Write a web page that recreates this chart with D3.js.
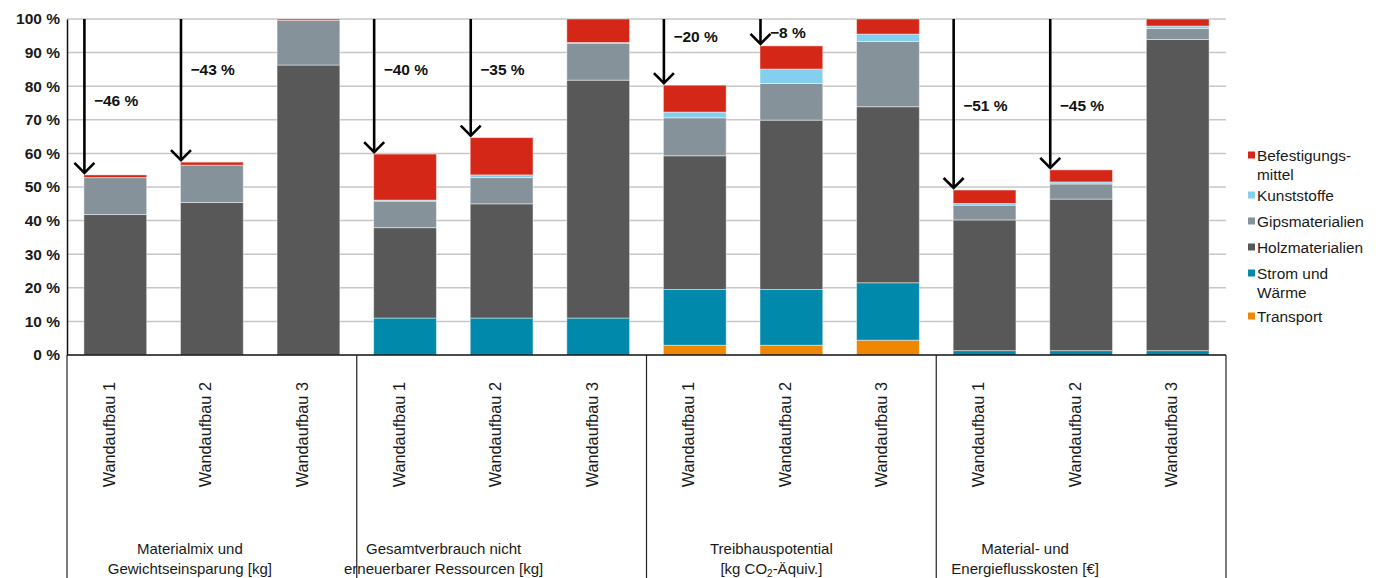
<!DOCTYPE html>
<html lang="de">
<head>
<meta charset="utf-8">
<script src="https://cdn.jsdelivr.net/npm/d3@7"></script>
<style>
  html, body { margin: 0; padding: 0; background: #fff; }
  svg { display: block; font-family: "Liberation Sans", Arial, sans-serif; }
</style>
</head>
<body>
<svg id="chart" width="1376" height="578"></svg>
<script>
// Bars (three wall build-ups per assessment group)
const bars = ["Wandaufbau 1", "Wandaufbau 2", "Wandaufbau 3"];
const groups = [
  ["Materialmix und", "Gewichtseinsparung [kg]"],
  ["Gesamtverbrauch nicht", "erneuerbarer Ressourcen [kg]"],
  ["Treibhauspotential", "[kg CO₂-Äquiv.]"],
  ["Material- und", "Energieflusskosten [€]"]
];

// Shares in % per bar (12 bars, 3 per group), stacked bottom to top
const transport = [0, 0, 0, 0, 0, 0, 2.9, 2.9, 4.4, 0, 0, 0];
const stromWaerme = [0, 0, 0, 11.0, 11.0, 11.0, 16.6, 16.6, 17.1, 1.3, 1.3, 1.3];
const holz = [41.8, 45.4, 86.3, 26.9, 34.0, 70.8, 39.8, 50.4, 52.4, 38.9, 45.1, 92.6];
const gips = [11.0, 11.1, 13.3, 7.9, 7.8, 11.0, 11.3, 10.9, 19.4, 4.4, 4.5, 3.3];
const kunststoffe = [0, 0, 0, 0.3, 0.8, 0.2, 1.7, 4.3, 2.2, 0.5, 0.6, 0.7];
const befestigung = [0.8, 0.9, 0.4, 13.7, 11.1, 7.0, 8.0, 6.9, 4.5, 4.0, 3.6, 2.1];

const seriesNames = ["Transport", "Strom und Wärme", "Holzmaterialien", "Gipsmaterialien", "Kunststoffe", "Befestigungsmittel"];
const seriesValues = [transport, stromWaerme, holz, gips, kunststoffe, befestigung];
const seriesColors = ["#ef8700", "#0089ab", "#585858", "#85929a", "#84cfee", "#d52718"];

// Legend entries, top to bottom (label lines)
const legendLabels = [
  ["Befestigungs-", "mittel"], ["Kunststoffe"], ["Gipsmaterialien"],
  ["Holzmaterialien"], ["Strom und", "Wärme"], ["Transport"]
];

const yTicks = [0, 10, 20, 30, 40, 50, 60, 70, 80, 90, 100];

// Height (in % units) of the reduction labels next to the arrows
const reductionLabelAt = [76, 85, null, 85, 85, null, 95, 96.2, null, 74.5, 74.5, null];

// ---- layout ----
const svg = d3.select("#chart");
const plotLeft = 67, plotRight = 1226, plotTop = 19, plotBottom = 355, frameBottom = 578;
const groupLabelShift = [-22, -58, -20, -56];
const legendX = 1248, legendCenters = [155, 195, 221, 247, 273, 316], legendLine = 19.5;

const ids = d3.range(12);
const x = d3.scaleBand().domain(ids).range([plotLeft, plotRight]).paddingInner(0.35).paddingOuter(0.175);
const y = d3.scaleLinear().domain([0, 100]).range([plotBottom, plotTop]);

// gridlines
svg.append("g").selectAll("line").data(yTicks.filter(d => d > 0)).join("line")
  .attr("x1", plotLeft).attr("x2", plotRight)
  .attr("y1", d => y(d)).attr("y2", d => y(d))
  .attr("stroke", "#c7c7c7").attr("stroke-width", 1.5);

// y axis
const yAxis = svg.append("g").attr("transform", `translate(${plotLeft},0)`)
  .call(d3.axisLeft(y).tickValues(yTicks).tickSize(0).tickPadding(7).tickFormat(d => d + " %"));
yAxis.select(".domain").attr("stroke", "#111").attr("stroke-width", 1.5);
yAxis.selectAll("text").attr("font-size", "15.5px").attr("font-weight", "bold")
  .attr("fill", "#1a1a1a").attr("font-family", "'Liberation Sans', Arial, sans-serif");

// stacked bars
const rows = ids.map(i => {
  const r = { id: i };
  seriesNames.forEach((n, k) => r[n] = seriesValues[k][i]);
  return r;
});
const stacked = d3.stack().keys(seriesNames)(rows);
svg.append("g").selectAll("g").data(stacked).join("g")
  .attr("fill", (d, k) => seriesColors[k])
  .selectAll("rect").data(d => d.filter(s => s[1] - s[0] > 0)).join("rect")
  .attr("x", d => x(d.data.id))
  .attr("width", x.bandwidth())
  .attr("y", d => y(d[1]))
  .attr("height", d => y(d[0]) - y(d[1]))
  .attr("stroke", "rgba(255,255,255,0.45)").attr("stroke-width", 1);

// bottom frame: axis line and group separators
svg.append("line").attr("x1", plotLeft).attr("x2", plotRight).attr("y1", plotBottom).attr("y2", plotBottom)
  .attr("stroke", "#111").attr("stroke-width", 1.5);
const sepX = d3.range(5).map(g => plotLeft + g * (plotRight - plotLeft) / 4);
svg.append("g").selectAll("line").data(sepX).join("line")
  .attr("x1", d => d).attr("x2", d => d).attr("y1", plotBottom).attr("y2", frameBottom)
  .attr("stroke", "#222").attr("stroke-width", 1.2);

// rotated bar labels
svg.append("g").selectAll("text").data(ids).join("text")
  .attr("transform", i => `translate(${x(i) + x.bandwidth() / 2 - 0.5},382) rotate(-90)`)
  .attr("text-anchor", "end")
  .attr("font-size", "16.3px").attr("fill", "#1a1a1a")
  .text(i => bars[i % 3]);

// group labels
const gl = svg.append("g").selectAll("text").data(groups).join("text")
  .attr("x", (d, g) => (sepX[g] + sepX[g + 1]) / 2 + groupLabelShift[g])
  .attr("text-anchor", "middle").attr("font-size", "15px").attr("fill", "#1a1a1a");
gl.each(function (lines) {
  const t = d3.select(this);
  lines.forEach((line, k) => {
    const ts = t.append("tspan").attr("x", t.attr("x")).attr("y", 554 + k * 19.5);
    const m = line.match(/^(.*CO)₂(.*)$/);
    if (m) {
      ts.append("tspan").text(m[1]);
      ts.append("tspan").attr("font-size", "10px").attr("dy", 3).text("2");
      ts.append("tspan").attr("dy", -3).text(m[2]);
    } else ts.text(line);
  });
});

// reduction arrows against Wandaufbau 3 of each group
const totals = ids.map(i => d3.sum(seriesValues, s => s[i]));
const arrows = ids.filter(i => i % 3 !== 2).map(i => {
  const ref = totals[i - (i % 3) + 2];
  return { i, total: totals[i], pct: Math.round((totals[i] - ref) / ref * 100) };
});
const ag = svg.append("g").attr("stroke", "#000").attr("stroke-width", 2.6).attr("fill", "none");
arrows.forEach(a => {
  const ax = x(a.i) + 0.5, tip = y(a.total) - 2;
  ag.append("line").attr("x1", ax).attr("x2", ax).attr("y1", plotTop).attr("y2", tip);
  ag.append("path").attr("d", `M${ax - 10},${tip - 10} L${ax},${tip} L${ax + 10},${tip - 10}`);
});
svg.append("g").selectAll("text").data(arrows).join("text")
  .attr("x", a => x(a.i) + 10)
  .attr("y", a => y(reductionLabelAt[a.i]) + 6)
  .attr("font-size", "15.5px").attr("font-weight", "bold").attr("fill", "#111")
  .text(a => "\u2212" + Math.abs(a.pct) + " %");

// legend (top entry = top of stack)
const legendOrder = d3.range(seriesNames.length).reverse();
const lg = svg.append("g").selectAll("g").data(legendOrder).join("g");
lg.append("rect")
  .attr("x", legendX).attr("y", (k, j) => legendCenters[j] - 3.5)
  .attr("width", 7).attr("height", 7).attr("fill", k => seriesColors[k]);
lg.append("text").attr("font-size", "15.4px").attr("fill", "#1a1a1a")
  .each(function (k, j) {
    const t = d3.select(this);
    legendLabels[j].forEach((line, n) => {
      t.append("tspan").attr("x", legendX + 9).attr("y", legendCenters[j] + 5.5 + n * legendLine).text(line);
    });
  });
</script>
</body>
</html>
